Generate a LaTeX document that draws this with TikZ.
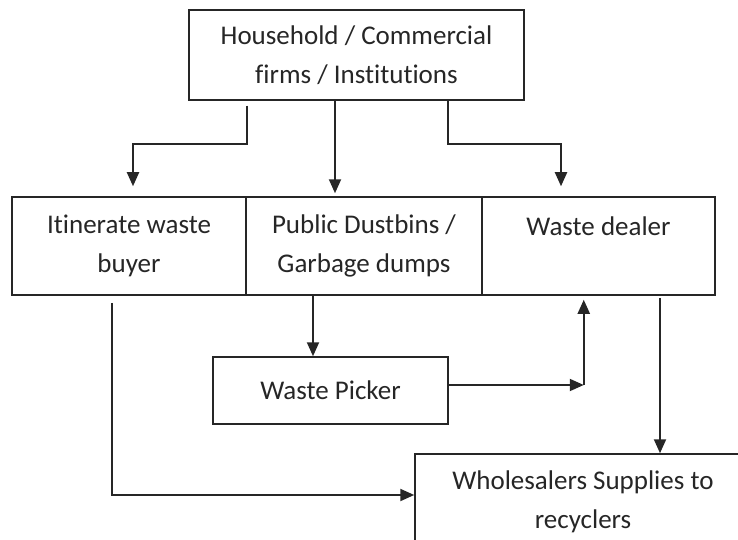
\documentclass[tikz,border=0pt]{standalone}
\usepackage{fontspec}
\setmainfont{Carlito}[Ligatures=NoCommon]
\usetikzlibrary{calc}
\usetikzlibrary{arrows.meta}

\begin{document}
\begin{tikzpicture}[x=1pt, y=-1pt,
        box/.style={rectangle, draw=black!85, line width=1.5pt, inner sep=0pt, align=center, text=black!85, font=\fontsize{27}{39}\selectfont},
        arr/.style={-{Triangle[length=14pt, width=12pt]}, draw=black!85, line width=2pt}]
            \useasboundingbox (0, 0) rectangle (738, 540);
            \clip (0, 0) rectangle (738, 540);
            \node[box, minimum width=335pt, minimum height=90pt] (house) at (356.5, 55) {Household / Commercial\\firms / Institutions};
            \node[box, minimum width=234pt, minimum height=98pt] (buyer) at (129, 246) {Itinerate waste\\buyer};
            \node[box, minimum width=236pt, minimum height=98pt] (bins) at (364, 246) {Public Dustbins /\\Garbage dumps};
            \node[box, minimum width=233pt, minimum height=98pt] (dealer) at (598.5, 246) {Waste dealer\\\mbox{}};
            \node[box, minimum width=235pt, minimum height=67pt] (picker) at (330.5, 390.5) {Waste Picker};
            \node[box, minimum width=336pt, minimum height=96pt] (whole) at (583, 502) {Wholesalers Supplies to\\recyclers};
            \draw[arr, shorten >=10pt] ($(house.south -| buyer.east) + (0, 5)$) -- ++(0, 38) -| ($(buyer.north) + (4, 0)$);
            \draw[arr, shorten >=3pt] ($(house.south) + (-21.5, 0)$) coordinate (h2) -- (h2 |- bins.north);
            \draw[arr, shorten >=10pt] ($(house.south) + (91.5, 0)$) -- ++(0, 43) -| ($(dealer.north) + (-37.5, 0)$);
            \draw[arr] ($(bins.south) + (-51, 0)$) coordinate (b1) -- (b1 |- picker.north);
            \draw[arr] ($(picker.east) + (0, -5.5)$) -- ++(135, 0) coordinate (pj);
            \draw[arr, shorten >=4pt] (pj) -- (pj |- dealer.south);
            \draw[arr] ($(dealer.south) + (61.5, 2)$) coordinate (d1) -- (d1 |- whole.north);
            \draw[arr] ($(buyer.south) + (-17, 7)$) |- ($(whole.west) + (0, -7)$);
        \end{tikzpicture}
\end{document}
